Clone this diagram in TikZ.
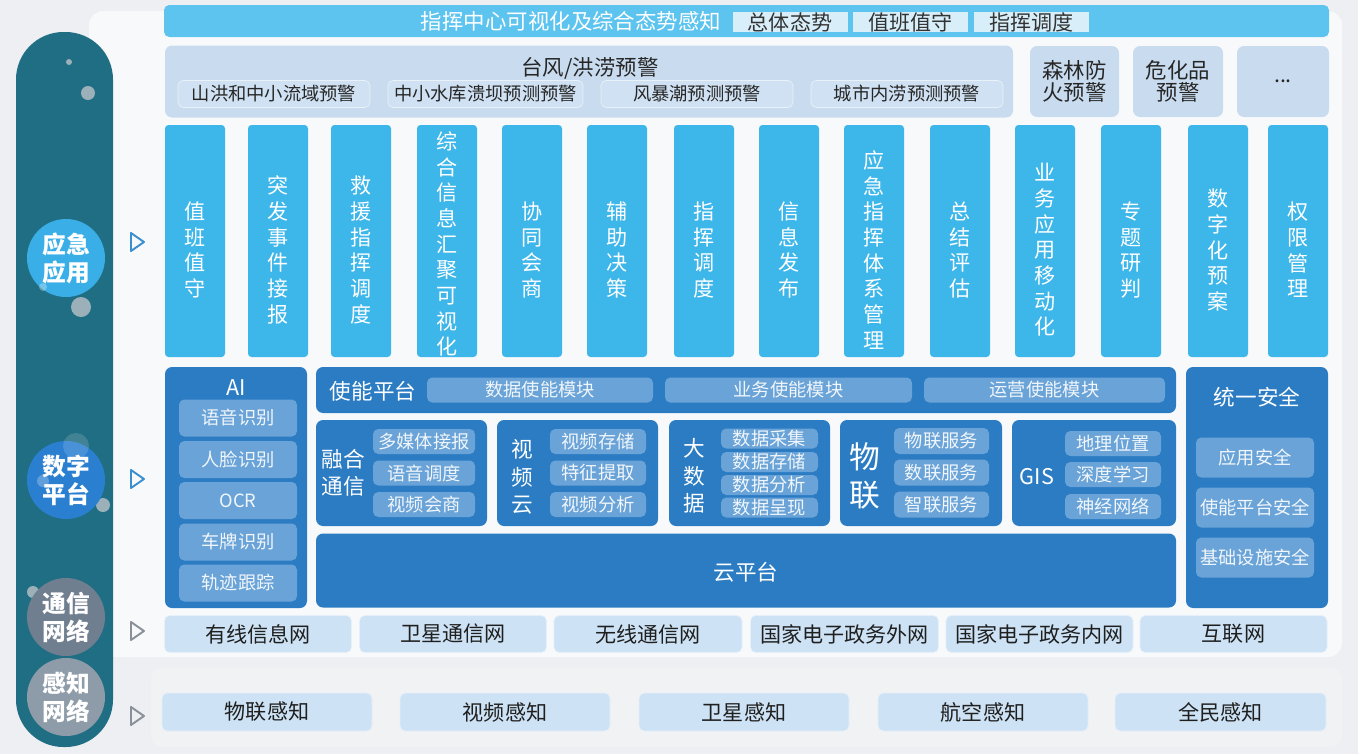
\documentclass[tikz,border=0pt]{standalone}
\usepackage{fontspec}
\setmainfont{Noto Sans CJK SC}
\definecolor{bgc}{HTML}{EDEFF2}
\definecolor{panelc}{HTML}{F8F9FB}
\definecolor{lowc}{HTML}{F1F2F4}
\definecolor{pillarc}{HTML}{206E83}
\definecolor{hdrc}{HTML}{5CC4EF}
\definecolor{hdtagc}{HTML}{D8EFFA}
\definecolor{warnc}{HTML}{C9DCEF}
\definecolor{warntagc}{HTML}{CFE1F2}
\definecolor{colc}{HTML}{3DB6EA}
\definecolor{darkc}{HTML}{2B7CC3}
\definecolor{subc}{HTML}{6AA3D7}
\definecolor{netc}{HTML}{CDE2F4}
\definecolor{yyc}{HTML}{3AAEE6}
\definecolor{szc}{HTML}{2B7FD0}
\definecolor{txc}{HTML}{6F7F90}
\definecolor{gzc}{HTML}{8D9CA8}
\definecolor{dotc}{HTML}{9CB0BA}
\definecolor{triblue}{HTML}{3A8FD0}
\definecolor{trigray}{HTML}{8A9099}

\begin{document}
\begin{tikzpicture}[x=0.02cm, y=-0.02cm,
	bx/.style 2 args={minimum width=#1*0.02cm, minimum height=#2*0.02cm},
	ring/.style={circle, inner sep=0pt, minimum size=78*0.02cm, text=white, align=center, font=\bfseries\fontsize{13.5}{16}\selectfont},
	hdr/.style={fill=hdrc, rounded corners=3pt, inner sep=0pt},
	hdrtxt/.style={text=white, inner sep=0pt, font=\fontsize{12.2}{14}\selectfont},
	hdtag/.style={fill=hdtagc, inner sep=0pt, text=black!80, font=\fontsize{12}{14}\selectfont},
	wbox/.style={fill=warnc, rounded corners=4pt, inner sep=0pt, text=black!85, align=center, font=\fontsize{12.2}{12.6}\selectfont},
	wtitle/.style={inner sep=0pt, text=black!85, font=\fontsize{12.2}{14}\selectfont},
	wtag/.style={fill=warntagc, draw=white!55!warntagc, rounded corners=3pt, inner sep=0pt, text=black!85, font=\fontsize{10.4}{12}\selectfont},
	col/.style={fill=colc, rounded corners=2pt, inner sep=0pt},
	coltxt/.style={inner sep=0pt, text=white, align=center, font=\fontsize{12}{14.6}\selectfont},
	dark/.style={fill=darkc, rounded corners=4pt, inner sep=0pt},
	wt/.style={inner sep=0pt, text=white, align=center, font=\fontsize{12.3}{15.5}\selectfont},
	sub/.style={fill=subc, rounded corners=3pt, inner sep=0pt, text=white!90!subc, font=\fontsize{10.4}{12}\selectfont},
	net/.style={fill=netc, draw=white!50!netc, rounded corners=3pt, inner sep=0pt, text=black!88, font=\fontsize{12}{14}\selectfont},
	tri/.style={line width=1.1pt, line join=round}]
	\useasboundingbox (0,0) rectangle (1358,754);
	\fill[bgc] (0,0) rectangle (1358,754);
	\fill[panelc, rounded corners=8pt] (89,11) rectangle (1342,657);
	\fill[lowc, rounded corners=6pt] (151,668) rectangle (1342,747);
	\fill[pillarc, rounded corners=27pt] (16,32) rectangle (113,747);
		\fill[dotc] (69,62) circle (3);
		\fill[dotc] (88,93) circle (7);
		\fill[dotc] (81,307) circle (10);
		\fill[dotc] (103,505) circle (7);
		\fill[dotc] (33,592) circle (6);
	\node[ring, fill=yyc] (1) at (66,258) {应急\\应用};
	\node[ring, fill=szc] (2) at (66,480) {数字\\平台};
	\node[ring, fill=txc] (3) at (66,617) {通信\\网络};
	\node[ring, fill=gzc] (4) at (66,697) {感知\\网络};
		\fill[white, opacity=0.15] (76,446) circle (13);
		\fill[white, opacity=0.25] (43,481) circle (6);
		\fill[white, opacity=0.3] (43,287) circle (4);
	\draw[tri, triblue] (131,233) -- (144,242) -- (131,251) -- cycle;
	\draw[tri, triblue] (131,470) -- (144,479) -- (131,488) -- cycle;
	\draw[tri, trigray] (131,622) -- (144,631) -- (131,640) -- cycle;
	\draw[tri, trigray] (131,707) -- (144,716) -- (131,725) -- cycle;
	\node[hdr, bx={1165}{32}] (5) at (746.5,21) {};
	\node[hdrtxt] (6) at (571,21) {指挥中心可视化及综合态势感知};
	\node[hdtag, bx={115}{20}] (7) at (790,22) {总体态势};
	\node[hdtag, bx={115}{20}] (8) at (910.5,22) {值班值守};
	\node[hdtag, bx={115}{20}] (9) at (1031.5,22) {指挥调度};
	\node[wbox, bx={848}{72}] (10) at (589,81.5) {};
	\node[wtitle] (11) at (590,68) {台风/洪涝预警};
	\node[wtag, bx={192}{27}] (12) at (274,94) {山洪和中小流域预警};
	\node[wtag, bx={195}{27}] (13) at (485.5,94) {中小水库溃坝预测预警};
	\node[wtag, bx={192}{27}] (14) at (697,94) {风暴潮预测预警};
	\node[wtag, bx={192}{27}] (15) at (907,94) {城市内涝预测预警};
	\node[wbox, bx={89}{71}] (16) at (1074.5,81.5) {森林防\\火预警};
	\node[wbox, bx={90}{71}] (17) at (1178,81.5) {危化品\\预警};
	\node[wbox, bx={92}{71}] (18) at (1283,81.5) {...};
	\node[col, bx={60}{232}] (19) at (195,241) {};
	\node[col, bx={60}{232}] (20) at (278,241) {};
	\node[col, bx={60}{232}] (21) at (361,241) {};
	\node[col, bx={60}{232}] (22) at (447,241) {};
	\node[col, bx={60}{232}] (23) at (532,241) {};
	\node[col, bx={60}{232}] (24) at (617,241) {};
	\node[col, bx={60}{232}] (25) at (704,241) {};
	\node[col, bx={60}{232}] (26) at (789,241) {};
	\node[col, bx={60}{232}] (27) at (874,241) {};
	\node[col, bx={60}{232}] (28) at (960,241) {};
	\node[col, bx={60}{232}] (29) at (1045,241) {};
	\node[col, bx={60}{232}] (30) at (1131,241) {};
	\node[col, bx={60}{232}] (31) at (1218,241) {};
	\node[col, bx={60}{232}] (32) at (1298,241) {};
	\node[coltxt] (33) at (195,250) {值\\班\\值\\守};
	\node[coltxt] (34) at (278,250) {突\\发\\事\\件\\接\\报};
	\node[coltxt] (35) at (361,250) {救\\援\\指\\挥\\调\\度};
	\node[coltxt] (36) at (447,244) {综\\合\\信\\息\\汇\\聚\\可\\视\\化};
	\node[coltxt] (37) at (532,250) {协\\同\\会\\商};
	\node[coltxt] (38) at (617,250) {辅\\助\\决\\策};
	\node[coltxt] (39) at (704,250) {指\\挥\\调\\度};
	\node[coltxt] (40) at (789,250) {信\\息\\发\\布};
	\node[coltxt] (41) at (874,250) {应\\急\\指\\挥\\体\\系\\管\\理};
	\node[coltxt] (42) at (960,250) {总\\结\\评\\估};
	\node[coltxt] (43) at (1045,250) {业\\务\\应\\用\\移\\动\\化};
	\node[coltxt] (44) at (1131,250) {专\\题\\研\\判};
	\node[coltxt] (45) at (1218,250) {数\\字\\化\\预\\案};
	\node[coltxt] (46) at (1298,250) {权\\限\\管\\理};
	\node[dark, bx={142}{241}] (47) at (236,487.5) {};
	\node[wt] (48) at (236,388) {AI};
	\node[sub, bx={118}{37}] (49) at (238,418) {语音识别};
	\node[sub, bx={118}{37}] (50) at (238,459.5) {人脸识别};
	\node[sub, bx={118}{37}] (51) at (238,500.5) {OCR};
	\node[sub, bx={118}{37}] (52) at (238,542) {车牌识别};
	\node[sub, bx={118}{37}] (53) at (238,583) {轨迹跟踪};
	\node[dark, bx={860}{46}] (54) at (746,390) {};
	\node[wt] (55) at (373,391) {使能平台};
	\node[sub, bx={226}{25}] (56) at (540,390) {数据使能模块};
	\node[sub, bx={247}{25}] (57) at (788.5,390) {业务使能模块};
	\node[sub, bx={241}{25}] (58) at (1044.5,390) {运营使能模块};
	\node[dark, bx={171}{106}] (59) at (401.5,473) {};
	\node[wt] (60) at (343,473) {融合\\通信};
	\node[sub, bx={102}{25}] (61) at (424,441.5) {多媒体接报};
	\node[sub, bx={102}{25}] (62) at (424,473) {语音调度};
	\node[sub, bx={102}{25}] (63) at (424,504.5) {视频会商};
	\node[dark, bx={161}{106}] (64) at (577.5,473) {};
	\node[wt] (65) at (522,477) {视\\频\\云};
	\node[sub, bx={96}{25}] (66) at (598,441.5) {视频存储};
	\node[sub, bx={96}{25}] (67) at (598,473) {特征提取};
	\node[sub, bx={96}{25}] (68) at (598,504.5) {视频分析};
	\node[dark, bx={161}{106}] (69) at (749.5,473) {};
	\node[wt] (70) at (694,476) {大\\数\\据};
	\node[sub, bx={97}{20}] (71) at (769.5,438.5) {数据采集};
	\node[sub, bx={97}{20}] (72) at (769.5,462) {数据存储};
	\node[sub, bx={97}{20}] (73) at (769.5,485) {数据分析};
	\node[sub, bx={97}{20}] (74) at (769.5,507.5) {数据呈现};
	\node[dark, bx={162}{106}] (75) at (921,473) {};
	\node[wt, font=\fontsize{17.5}{21.5}\selectfont] (76) at (865,476) {物\\联};
	\node[sub, bx={95}{26}] (77) at (941.5,441) {物联服务};
	\node[sub, bx={95}{26}] (78) at (941.5,472.5) {数联服务};
	\node[sub, bx={95}{26}] (79) at (941.5,504.5) {智联服务};
	\node[dark, bx={164}{106}] (80) at (1094,473) {};
	\node[wt] (81) at (1037,477) {GIS};
	\node[sub, bx={96}{25}] (82) at (1113,443.5) {地理位置};
	\node[sub, bx={96}{25}] (83) at (1113,474.5) {深度学习};
	\node[sub, bx={96}{25}] (84) at (1113,506.5) {神经网络};
	\node[dark, bx={860}{74}] (85) at (746,570.5) {};
	\node[wt] (86) at (746,572) {云平台};
	\node[dark, bx={142}{241}] (87) at (1257,487.5) {};
	\node[wt] (88) at (1257,397) {统一安全};
	\node[sub, bx={118}{40}] (89) at (1255,457.5) {应用安全};
	\node[sub, bx={118}{40}] (90) at (1255,507.5) {使能平台安全};
	\node[sub, bx={118}{40}] (91) at (1255,557.5) {基础设施安全};
	\node[net, bx={187}{37}] (92) at (258,634) {有线信息网};
	\node[net, bx={187}{37}] (93) at (453,634) {卫星通信网};
	\node[net, bx={188}{37}] (94) at (648,634) {无线通信网};
	\node[net, bx={188}{37}] (95) at (844.5,634) {国家电子政务外网};
	\node[net, bx={187}{37}] (96) at (1039.5,634) {国家电子政务内网};
	\node[net, bx={187}{37}] (97) at (1233.5,634) {互联网};
	\node[net, bx={210}{38}] (98) at (267,712) {物联感知};
	\node[net, bx={210}{38}] (99) at (505,712) {视频感知};
	\node[net, bx={210}{38}] (100) at (744,712) {卫星感知};
	\node[net, bx={210}{38}] (101) at (983,712) {航空感知};
	\node[net, bx={211}{38}] (102) at (1220.5,712) {全民感知};
\end{tikzpicture}
\end{document}
